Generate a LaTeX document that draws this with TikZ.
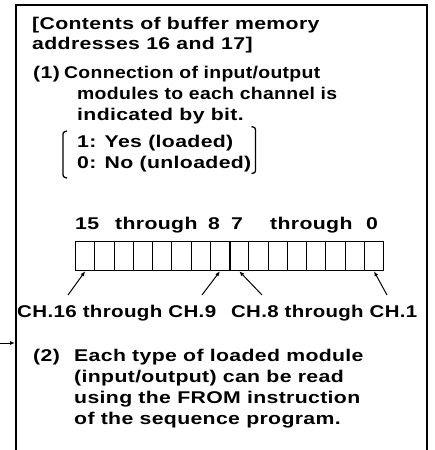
\documentclass[tikz,border=0pt]{standalone}
\usepackage{fontspec}
\setmainfont{Liberation Sans}[FakeStretch=1.25, LetterSpace=2]
\usetikzlibrary{arrows.meta,calc}
% set a line of text to a given width, keeping its height
\newcommand\fitline[2]{\resizebox{#1}{\height}{#2}}
\begin{document}
\begin{tikzpicture}[x=1pt,y=-1pt,
  txt/.style={anchor=base west, inner sep=0pt, font=\fontsize{17}{20}\selectfont\bfseries},
  frame/.style={line width=2.4pt},
  cell/.style={draw, line width=1.2pt, minimum width=19.25pt, minimum height=29pt,
    inner sep=0pt, anchor=north west},
  ptr/.style={line width=1pt, -{Latex[length=5pt,width=4pt]}},
  brk/.style={line width=1.3pt}]
\useasboundingbox (0,0) rectangle (434,450);

% open frame around the description
\draw[frame] (16,450) -- (16,5) -- (427,5) -- (427,450);
\coordinate (feed) at (0,343);
\coordinate (feedend) at (15,343);
\draw[ptr] (feed) -- (feedend);

% heading
\node[txt] (h1) at (32,29) {[Contents of buffer memory};
\node[txt] (h2) at (32,49) {addresses 16 and 17]};

% item (1)
\node[txt] (n1) at (33,78) {(1)};
\node[txt] (a1) at (64,78) {\fitline{256pt}{Connection of input/output}};
\node[txt] (a2) at (77,99) {\fitline{260pt}{modules to each channel is}};
\node[txt] (a3) at (77,120) {indicated by bit.};
\node[txt] (y1) at (77,147) {1: Yes (loaded)};
\node[txt] (y0) at (77,168) {0: No (unloaded)};
\draw[brk] (67,131) .. controls (63,132) .. (63,137) -- (63,172) .. controls (63,177) .. (67,178);
\draw[brk] ($(y0.east)+(0,-37)$) .. controls ($(y0.east)+(4,-36)$) .. ($(y0.east)+(4,-31)$)
  -- ($(y0.east)+(4,4)$) .. controls ($(y0.east)+(4,9)$) .. ($(y0.east)+(0,10)$);

% bit numbers
\node[txt] (k15) at (75,229) {15};
\node[txt] (th1) at (115,229) {through};
\node[txt] (k8) at (208,229) {8};
\node[txt] (k7) at (231,229) {7};
\node[txt] (th2) at (270,229) {through};
\node[txt] (k0) at (366,229) {0};

% 16-bit word
\foreach \i in {0,...,15}
  \node[cell] (b\i) at ({75+19.25*\i},241) {};
\draw[line width=2.2pt] (b7.north east) -- (b7.south east);

% channel labels and pointers
\node[txt] (chA) at (17,317) {\fitline{199pt}{CH.16 through CH.9}};
\node[txt] (chB) at (231,317) {\fitline{186pt}{CH.8 through CH.1}};
\coordinate (p1) at (68,295);
\coordinate (p2) at (202,295);
\coordinate (p3) at (262,295);
\coordinate (p4) at (387,295);
\draw[ptr] (p1) -- (b0.south);
\draw[ptr] (p2) -- (b7.south);
\draw[ptr] (p3) -- (b8.south);
\draw[ptr] (p4) -- (b15.south);

% item (2)
\node[txt] (n2) at (33,361) {(2)};
\node[txt] (c1) at (74,361) {Each type of loaded module};
\node[txt] (c2) at (74,382) {(input/output) can be read};
\node[txt] (c3) at (74,403) {using the FROM instruction};
\node[txt] (c4) at (74,424) {of the sequence program.};
\end{tikzpicture}
\end{document}
